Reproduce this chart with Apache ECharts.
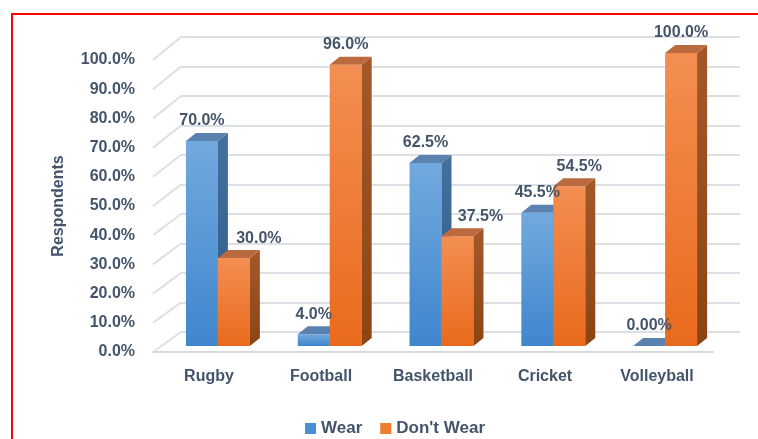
<!DOCTYPE html>
<html><head><meta charset="utf-8">
<script src="https://cdn.jsdelivr.net/npm/echarts@6/dist/echarts.min.js"></script>
<style>html,body{margin:0;padding:0;background:#fff}#c{width:758px;height:439px}</style>
</head><body><div id="c"></div>
<script>
// ---- data ----
const categories = ['Rugby', 'Football', 'Basketball', 'Cricket', 'Volleyball'];
const seriesNames = ['Wear', "Don't Wear"];
const wear = [70.0, 4.0, 62.5, 45.5, 0.0];
const dontWear = [30.0, 96.0, 37.5, 54.5, 100.0];
const yMin = 0, yMax = 100, yStep = 10;

// ---- layout / style ----
const TXT = '#44546A';
const FONT = '"Liberation Sans", Arial, sans-serif';
const FRONT = {left: 153, right: 45, top: 60, bottom: 87};
const BACK = {left: 181, right: 18, top: 37, bottom: 107};
const BARS = {left: 162, right: 37, top: 53, bottom: 93};
const DX = 10, DY = 8;
const labelShift = [[0, 0, 0, 0, 0], [25, 0, 23, 10, 0]];
const palettes = [
  {front: ['#72A9DF', '#3E86CC'], side: ['#44709E', '#2F5B88'], top: '#5A82AE'},
  {front: ['#F38E52', '#E96A1C'], side: ['#A4582A', '#8A4514'], top: '#BA6A3E'}
];

function fmt(v) { return v === 0 ? '0.00%' : v.toFixed(1) + '%'; }

function render3D(si) {
  const pal = palettes[si];
  return function (params, api) {
    const ci = api.value(0), v = api.value(1);
    const base = api.coord([ci, 0]);
    const top = api.coord([ci, v]);
    const w = api.size([1, 0])[0] * 0.286;
    const x0 = si === 0 ? base[0] - w : base[0];
    const x1 = x0 + w;
    const grad = (c) => ({type: 'linear', x: 0, y: 0, x2: 0, y2: 1, colorStops: [{offset: 0, color: c[0]}, {offset: 1, color: c[1]}]});
    const children = [];
    if (base[1] - top[1] > 0.5) {
      children.push({type: 'rect', shape: {x: x0, y: top[1], width: w, height: base[1] - top[1]}, style: {fill: grad(pal.front)}});
      children.push({type: 'polygon', shape: {points: [[x1, top[1]], [x1 + DX, top[1] - DY], [x1 + DX, base[1] - DY], [x1, base[1]]]}, style: {fill: grad(pal.side)}});
    }
    children.push({type: 'polygon', shape: {points: [[x0, top[1]], [x0 + DX, top[1] - DY], [x1 + DX, top[1] - DY], [x1, top[1]]]}, style: {fill: pal.top}});
    children.push({type: 'text', z2: 100, style: {text: fmt(v), x: x0 + w / 2 + labelShift[si][params.dataIndex], y: top[1] - 20,
      align: 'center', verticalAlign: 'middle', fill: TXT, font: 'bold 16px ' + FONT}});
    return {type: 'group', children: children};
  };
}

const chart = echarts.init(document.getElementById('c'));
const option = {
  animation: false,
  backgroundColor: '#fff',
  textStyle: {fontFamily: FONT},
  grid: [
    Object.assign({}, FRONT),
    Object.assign({}, BACK),
    Object.assign({}, BARS)
  ],
  xAxis: [
    {type: 'category', gridIndex: 0, data: categories, axisTick: {show: false},
      axisLine: {show: true, lineStyle: {color: '#D9D9D9', width: 2}},
      axisLabel: {color: TXT, fontWeight: 'bold', fontSize: 16, margin: 17}},
    {type: 'category', gridIndex: 1, data: categories, show: false},
    {type: 'category', gridIndex: 2, data: categories, show: false}
  ],
  yAxis: [
    {type: 'value', gridIndex: 0, min: yMin, max: yMax, interval: yStep,
      axisLine: {show: false}, axisTick: {show: false}, splitLine: {show: false},
      axisLabel: {color: TXT, fontWeight: 'bold', fontSize: 16, margin: 18, formatter: v => v.toFixed(1) + '%'},
      name: 'Respondents', nameLocation: 'middle', nameRotate: 90, nameGap: 86,
      nameTextStyle: {color: TXT, fontWeight: 'bold', fontSize: 16}},
    {type: 'value', gridIndex: 1, min: yMin, max: yMax, interval: yStep,
      axisLine: {show: false}, axisTick: {show: false}, axisLabel: {show: false},
      splitLine: {show: true, lineStyle: {color: '#DCDFE4', width: 2}}},
    {type: 'value', gridIndex: 2, min: yMin, max: yMax, show: false}
  ],
  legend: {
    data: seriesNames, left: 300, top: 415, icon: 'rect', itemWidth: 11, itemHeight: 11, itemGap: 18,
    textStyle: {color: TXT, fontWeight: 'bold', fontSize: 17, fontFamily: FONT}
  },
  series: [
    {name: seriesNames[0], type: 'custom', xAxisIndex: 2, yAxisIndex: 2, renderItem: render3D(0),
      itemStyle: {color: '#4A8FD4'}, encode: {x: 0, y: 1}, data: wear.map((v, i) => [i, v])},
    {name: seriesNames[1], type: 'custom', xAxisIndex: 2, yAxisIndex: 2, renderItem: render3D(1),
      itemStyle: {color: '#ED7D31'}, encode: {x: 0, y: 1}, data: dontWear.map((v, i) => [i, v])}
  ]
};
chart.setOption(option);

// perspective connectors from the front (label) plane to the back wall, plus frame
const g = [];
for (let v = yMin; v <= yMax; v += yStep) {
  const yf = chart.convertToPixel({yAxisIndex: 0}, v);
  const yb = chart.convertToPixel({yAxisIndex: 1}, v);
  g.push({type: 'line', shape: {x1: FRONT.left, y1: yf, x2: BACK.left, y2: yb}, style: {stroke: '#DCDFE4', lineWidth: 2}, z: 0, silent: true});
}
g.push({type: 'rect', shape: {x: 12, y: 14, width: 800, height: 500}, style: {fill: null, stroke: '#FF0000', lineWidth: 2}, z: 10, silent: true});
chart.setOption({graphic: g});
</script>
</body></html>
